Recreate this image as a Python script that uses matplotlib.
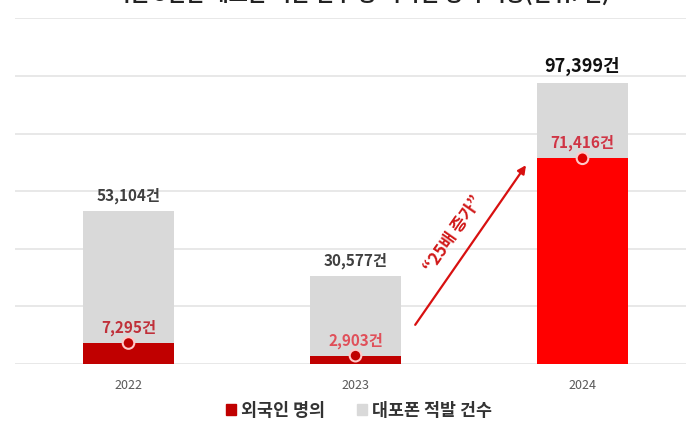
import matplotlib
matplotlib.use('Agg')
from matplotlib import pyplot as plt

plt.rcParams['font.family'] = ['Noto Sans CJK KR', 'DejaVu Sans']

years = ['2022', '2023', '2024']
foreign = [7295, 2903, 71416]
total = [53104, 30577, 97399]
labels_total = ['53,104건', '30,577건', '97,399건']
labels_foreign = ['7,295건', '2,903건', '71,416건']
legend_labels = ['외국인 명의', '대포폰 적발 건수']
title = '<최근 3년간 대포폰 적발 건수 중 외국인 명의 비중(단위: 건)>'
growth_text = '“25배 증가”'

GRAY = '#d9d9d9'
RED_DARK = '#c00000'
RED = '#ff0000'
red_colors = [RED_DARK, RED_DARK, RED]
dot_colors = ['#c00000', '#c00000', '#e00000']
label_red = ['#c0303a', '#e0505a', '#d03545']
total_colors = ['#404040', '#404040', '#111111']
total_sizes = [11, 11, 13]

fig = plt.figure(figsize=(6.86, 4.40), dpi=100)
ax = fig.add_axes([15 / 686, 76 / 440, 681 / 686, 345.7 / 440])

x = list(range(len(years)))
ax.bar(x, total, width=0.4, color=GRAY, zorder=2)
ax.bar(x, foreign, width=0.4, color=red_colors, zorder=3)
ax.scatter(x, foreign, s=70, c=dot_colors, edgecolors='#ffc8c8',
           linewidths=1.5, zorder=4)

for i in x:
    ax.annotate(labels_total[i], (i, total[i]), xytext=(0, 5),
                textcoords='offset points', ha='center', va='bottom',
                fontsize=total_sizes[i], fontweight='bold',
                color=total_colors[i])
    ax.annotate(labels_foreign[i], (i, foreign[i]), xytext=(0, 5),
                textcoords='offset points', ha='center', va='bottom',
                fontsize=11, fontweight='bold', color=label_red[i])

# growth arrow between 2023 and 2024
ax.annotate('', xy=(1.758, 69800), xytext=(1.256, 12800),
            arrowprops=dict(arrowstyle='-|>', color='#d81010', lw=1.6,
                            mutation_scale=12), zorder=5)
ax.text(1.43, 45000, growth_text, rotation=55, ha='center', va='center',
        fontsize=12, fontweight='bold', color='#d01818',
        rotation_mode='anchor', zorder=5)

ax.set_xlim(-0.5, 2.5)
ax.set_ylim(0, 120000)
ax.set_yticks(range(0, 120001, 20000))
ax.yaxis.grid(True, color='#e4e4e4', lw=1.2, zorder=0)
ax.set_axisbelow(True)
ax.tick_params(axis='y', left=False, labelleft=False)
ax.tick_params(axis='x', bottom=False, labelsize=9, labelcolor='#595959',
               pad=7)
ax.set_xticks(x)
ax.set_xticklabels(years)
for s in ax.spines.values():
    s.set_visible(False)

handles = [plt.Rectangle((0, 0), 1, 1, color=RED_DARK),
           plt.Rectangle((0, 0), 1, 1, color=GRAY)]
fig.legend(handles, legend_labels, loc='center', bbox_to_anchor=(359 / 686, 1 - 411 / 440),
           ncol=2, frameon=False, handlelength=0.6, handleheight=0.6,
           handletextpad=0.3, columnspacing=1.8,
           prop={'size': 12.5, 'weight': 'bold'}, labelcolor='#333333')

fig.text(360 / 686, 1 - 2 / 440, title, ha='center', va='baseline',
         fontsize=15, fontweight='bold', color='#222222')

fig.savefig('out.png', dpi=100)
